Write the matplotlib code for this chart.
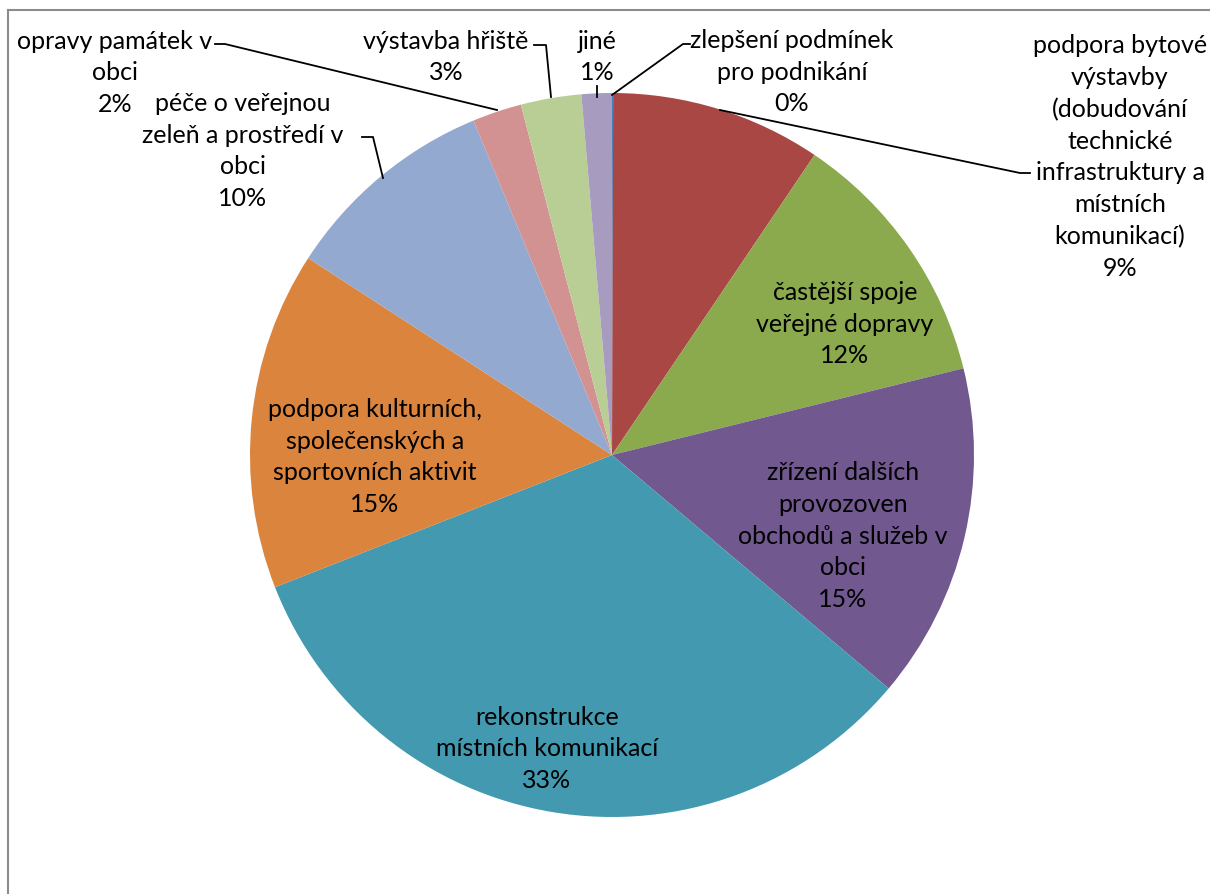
import matplotlib
matplotlib.use("Agg")
import matplotlib.pyplot as plt
from matplotlib.lines import Line2D

plt.rcParams['font.family'] = ['Lato', 'DejaVu Sans']

categories = [
    "zlepšení podmínek\npro podnikání",
    "podpora bytové\nvýstavby\n(dobudování\ntechnické\ninfrastruktury a\nmístních\nkomunikací)",
    "častější spoje\nveřejné dopravy",
    "zřízení dalších\nprovozoven\nobchodů a služeb v\nobci",
    "rekonstrukce\nmístních komunikací",
    "podpora kulturních,\nspolečenských a\nsportovních aktivit",
    "péče o veřejnou\nzeleň a prostředí v\nobci",
    "opravy památek v\nobci",
    "výstavba hřiště",
    "jiné",
]
values = [0.05, 9.4, 11.7, 15.0, 32.9, 15.1, 9.6, 2.2, 2.7, 1.35]
colors = ["#4A7EBB", "#A94745", "#8BA94D", "#71588F", "#4299B0",
          "#DB843D", "#94A9CF", "#D39292", "#B9CE95", "#A89BC0"]

W, H = 1210, 894
CX, CY, R = 612, 455, 362

fig = plt.figure(figsize=(W / 100, H / 100), dpi=100)
ax = fig.add_axes([(CX - R) / W, (H - CY - R) / H, 2 * R / W, 2 * R / H])
ax.pie(values, colors=colors, startangle=90, counterclock=False, radius=1,
       wedgeprops=dict(linewidth=0))
ax.set_xlim(-1, 1)
ax.set_ylim(-1, 1)
ax.set_aspect('equal')
ax.axis('off')

total = sum(values)
pcts = [f"{v / total * 100:.0f}%" for v in values]


def px(x, y):
    return ((x - CX) / R, (CY - y) / R)


# label centers in pixel coords
label_pos = [
    (792, 70),
    (1120, 155),
    (845, 322),
    (843, 534),
    (547, 747),
    (375, 455),
    (243, 149),
    (115, 71),
    (446, 55),
    (597, 55),
]
fs = 18
LINE = 31.8  # px between lines
for cat, p, (lx, ly) in zip(categories, pcts, label_pos):
    lines = cat.split("\n") + [p]
    n = len(lines)
    for i, s in enumerate(lines):
        yy = ly + (i - (n - 1) / 2) * LINE
        x, y = px(lx, yy)
        ax.text(x, y, s, ha='center', va='center_baseline', fontsize=fs,
                color='black', clip_on=False)

leaders = [
    [(612, 95), (683, 44), (690, 44)],
    [(720, 110), (1020, 173), (1030, 173)],
    [(597, 97), (597, 86)],
    [(551, 97), (546, 45), (534, 45)],
    [(497, 110), (225, 44), (215, 44)],
    [(383, 178), (373, 137), (362, 137)],
]
for pts in leaders:
    xs, ys = zip(*[px(a, b) for a, b in pts])
    ax.plot(xs, ys, color='black', linewidth=1.3, clip_on=False)

# chart-area frame (top and left edges visible)
fig.add_artist(Line2D([8 / W, 1], [1 - 10 / H, 1 - 10 / H], transform=fig.transFigure,
                      color='#8C8C8C', linewidth=1.5))
fig.add_artist(Line2D([8 / W, 8 / W], [0, 1 - 10 / H], transform=fig.transFigure,
                      color='#8C8C8C', linewidth=1.5))

fig.savefig("out.png", dpi=100, facecolor='white')
